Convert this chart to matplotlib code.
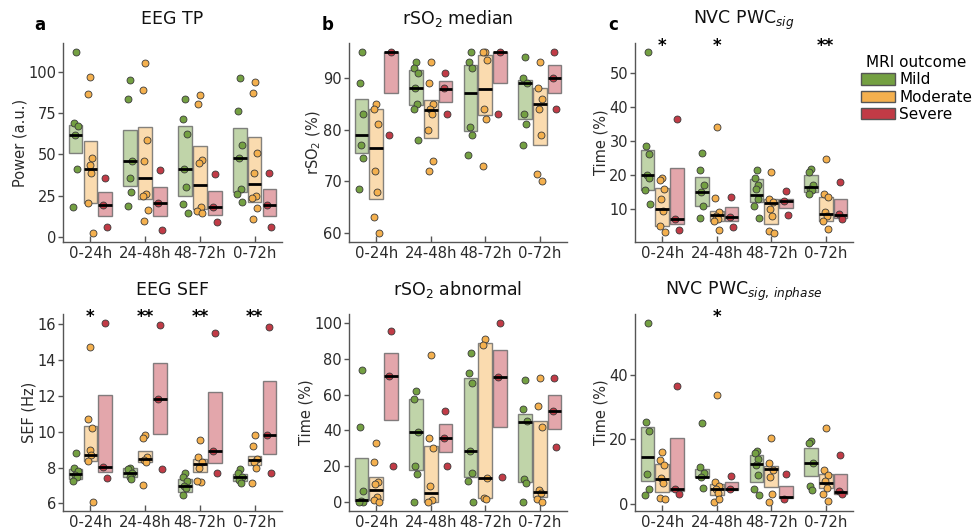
import numpy as np
import matplotlib
matplotlib.use("Agg")
import matplotlib.pyplot as plt
import matplotlib.transforms as mtransforms
from matplotlib.patches import Patch
from matplotlib.colors import to_rgba

categories = ["0-24h", "24-48h", "48-72h", "0-72h"]
groups = ["Mild", "Moderate", "Severe"]

# ---------------- EEG TP ----------------
tp_q1 = [[51, 31, 25, 27.5], [20.5, 23, 17, 21.5], [13, 12.5, 13.5, 12.5]]
tp_med = [[61.5, 46, 41.5, 48], [41, 36, 31.5, 32], [19.5, 20.5, 18, 19.5]]
tp_q3 = [[68, 65, 67.5, 66], [58, 66.5, 55, 60.5], [27.5, 30.5, 28, 29]]
tp_mild = [[112, 69, 67.5, 61.5, 41.5, 18], [95, 83.5, 46, 36, 27, 19],
           [83.5, 71.5, 62.5, 41.5, 30.5, 20, 14.5], [96.5, 76.5, 55.5, 48, 29, 26, 21.5]]
tp_mod = [[97, 86.5, 48, 43.5, 39, 20.5, 2.5], [105.5, 89, 58.5, 46, 26, 25, 16.5, 10],
          [86, 80.5, 46.5, 45, 18, 16, 14.5], [94, 87.5, 51, 39, 25, 23.5, 17.5, 11]]
tp_sev = [[35.5, 19.5, 6], [40.5, 20.5, 4], [38, 18, 9], [38.5, 19.5, 6]]

# ---------------- rSO2 median ----------------
rm_q1 = [[75.5, 84.7, 79.8, 82], [66.5, 78.4, 82.9, 77], [87, 85.4, 89, 87]]
rm_med = [[79, 88.1, 87, 89], [76.5, 83.7, 87.9, 85], [95, 87.9, 95, 90]]
rm_q3 = [[86, 91.5, 92.5, 89.5], [84, 85.8, 94.4, 88], [95, 89.4, 95, 92.5]]
rm_mild = [[95, 89, 83, 77, 74.5, 68.5], [93, 92, 91, 88, 85, 84, 78],
           [95, 93, 92, 80.5, 79, 75], [94, 90, 89, 83, 81, 77]]
rm_mod = [[85, 84, 81, 72, 68, 63, 60], [93, 89, 85, 84, 83, 80, 74, 72],
          [95, 95, 93.5, 84, 82, 73], [93, 88, 86, 84, 79, 71.5, 70]]
rm_sev = [[95, 79], [91, 88, 83], [95, 83], [95, 90, 84]]

# ---------------- NVC PWC sig ----------------
ns_q1 = [[15.5, 11, 12, 15], [5, 6.5, 5.5, 6.5], [5.5, 6.5, 10.3, 7.5]]
ns_med = [[20, 15, 14.2, 16.6], [10, 8.2, 11.7, 8.5], [7.2, 7.8, 12.3, 8.2]]
ns_q3 = [[27.3, 19.5, 18.8, 20], [16.3, 9.3, 13, 13.5], [21.9, 10.7, 13, 13]]
ns_mild = [[56, 28.5, 26, 20, 19, 15.5, 11.5], [26.3, 21.4, 17, 15, 11, 7.3],
           [21.4, 19, 17, 16, 13, 11, 7.5], [21.6, 20.8, 17, 16, 15.5, 14.5]]
ns_mod = [[19, 18.5, 15.8, 13, 9.5, 5, 3.4], [34, 13.1, 9, 8, 7, 6.5, 3.9],
          [20.9, 13, 12, 10, 8, 3.6, 3], [24.8, 14.5, 13.5, 9, 8, 6.5, 4.3]]
ns_sev = [[36.5, 7.2, 3.9], [13.6, 7.8, 4.8], [15.3, 12.3, 8.4], [18, 8.5, 7]]

# ---------------- EEG SEF ----------------
sef_q1 = [[7.35, 7.47, 6.64, 7.25], [8.38, 8.3, 7.75, 8.15], [7.75, 9.87, 8.27, 8.78]]
sef_med = [[7.65, 7.71, 6.98, 7.47], [8.7, 8.48, 8.2, 8.41], [8.06, 11.8, 8.91, 9.83]]
sef_q3 = [[7.92, 7.95, 7.38, 7.62], [10.33, 8.9, 8.5, 8.67], [12.04, 13.85, 12.19, 12.83]]
sef_mild = [[8.8, 8.0, 7.8, 7.6, 7.45, 7.25], [8.0, 7.9, 7.7, 7.5, 7.35],
            [7.7, 7.5, 7.25, 7.0, 6.85, 6.45], [7.9, 7.7, 7.5, 7.3, 7.12]]
sef_mod = [[14.73, 10.71, 10.2, 9.0, 8.7, 8.36, 6.08], [9.83, 9.63, 8.6, 8.4, 8.3, 7.05],
           [9.52, 8.58, 8.3, 8.0, 7.22, 7.25], [9.79, 9.22, 8.5, 8.3, 7.97, 7.14]]
sef_sev = [[16.06, 8.06, 7.42], [15.94, 11.8, 7.93], [15.48, 8.91, 7.68], [15.85, 9.83, 7.71]]

# ---------------- rSO2 abnormal ----------------
ra_q1 = [[0.7, 17.9, 14, 11.4], [1, 0, 2, 3], [45.6, 28, 41.7, 40.6]]
ra_med = [[0.9, 39.1, 28.4, 44.5], [7, 4.8, 13.7, 5.7], [70.5, 36, 69.9, 50.7]]
ra_q3 = [[24.4, 57.4, 69.4, 49], [14.2, 31.4, 88.9, 45], [83, 43.7, 84.9, 59.8]]
ra_mild = [[74, 42, 6, 0.5, 0, 0], [62, 57.5, 39, 20, 15.5, 0],
           [83, 71.8, 66.6, 28.4, 16.2, 11.6, 0], [68.1, 52, 45.4, 12.7, 10.7, 0]]
ra_mod = [[33, 22.3, 11, 10, 3, 1, 0], [82.1, 35.8, 30.1, 9, 1, 0],
          [90.8, 87.6, 13.7, 2.5, 1.5], [69.4, 53.5, 41.9, 7, 5.2, 1.5, 0]]
ra_sev = [[95.6, 70.5, 20], [51.1, 36, 20], [100, 69.9, 14.2], [69, 50.7, 30.6]]

# ---------------- NVC PWC sig, inphase ----------------
ni_q1 = [[7, 8.4, 6.7, 8.7], [3.6, 2.7, 5.4, 5], [3.9, 4.4, 1.8, 3.2]]
ni_med = [[14.5, 8.4, 12.4, 12.6], [7.7, 4.6, 10.8, 6.6], [4.5, 4.5, 2.1, 3.7]]
ni_q3 = [[23.9, 10.7, 15, 17.4], [12.5, 6.2, 11.9, 9.2], [20.5, 6.7, 5.7, 9.2]]
ni_mild = [[56, 25.4, 22.7, 9.3, 4.7, 2.7], [25.1, 11.3, 9.5, 8.4, 4.8],
           [16.5, 15.9, 14, 12, 9, 4.7, 2.9], [19.6, 18.8, 12.6, 5.7, 4.2]]
ni_mod = [[16.2, 13.6, 12.1, 8, 6.5, 1.8, 1.5], [33.6, 6.8, 5.5, 4.5, 3.5, 0.6, 1.5],
          [20.3, 12.8, 10.5, 8.5, 3.2, 0.6], [23.6, 10.4, 9, 7, 5, 3.2, 1]]
ni_sev = [[36.5, 4.5, 3.1], [8.8, 4.5], [9.3, 1.6], [15, 4, 3]]

# ---------------- styling ----------------
point_colors = ["#74a042", "#f4b04e", "#c13b46"]
offsets = [-0.27, 0.0, 0.27]
box_w = 0.25
jitter = np.array([0.0, -0.035, 0.035, -0.015, 0.02, -0.045, 0.045, -0.025, 0.01])
spine_c = "#555555"
text_c = "#2b2b2b"

plt.rcParams["font.family"] = ["DejaVu Sans"]

fig = plt.figure(figsize=(9.75, 5.32), dpi=100)

W, H = 975.0, 532.0
def rect(l, r, t, b):
    return [l / W, 1 - b / H, (r - l) / W, (b - t) / H]

panels = [
    dict(pos=rect(63, 282, 43, 242), q1=tp_q1, med=tp_med, q3=tp_q3, pts=[tp_mild, tp_mod, tp_sev],
         ticks=[0, 25, 50, 75, 100], ylabel="Power (a.u.)", title="EEG TP", stars=["", "", "", ""]),
    dict(pos=rect(349, 567, 43, 242), q1=rm_q1, med=rm_med, q3=rm_q3, pts=[rm_mild, rm_mod, rm_sev],
         ticks=[60, 70, 80, 90], ylabel="rSO$_2$ (%)", title="rSO$_2$ median", stars=["", "", "", ""]),
    dict(pos=rect(635, 853, 43, 242), q1=ns_q1, med=ns_med, q3=ns_q3, pts=[ns_mild, ns_mod, ns_sev],
         ticks=[10, 20, 30, 40, 50], ylabel="Time (%)", title="NVC PWC$_{sig}$", stars=["*", "*", "", "**"]),
    dict(pos=rect(63, 282, 314, 511), q1=sef_q1, med=sef_med, q3=sef_q3, pts=[sef_mild, sef_mod, sef_sev],
         ticks=[6, 8, 10, 12, 14, 16], ylabel="SEF (Hz)", title="EEG SEF", stars=["*", "**", "**", "**"]),
    dict(pos=rect(349, 567, 314, 511), q1=ra_q1, med=ra_med, q3=ra_q3, pts=[ra_mild, ra_mod, ra_sev],
         ticks=[0, 20, 40, 60, 80, 100], ylabel="Time (%)", title="rSO$_2$ abnormal", stars=["", "", "", ""]),
    dict(pos=rect(635, 853, 314, 511), q1=ni_q1, med=ni_med, q3=ni_q3, pts=[ni_mild, ni_mod, ni_sev],
         ticks=[0, 20, 40], ylabel="Time (%)", title="NVC PWC$_{sig,\\,inphase}$", stars=["", "*", "", ""]),
]

x = np.arange(len(categories))
for p in panels:
    ax = fig.add_axes(p["pos"])
    ax.use_sticky_edges = False
    for g in range(3):
        xs = x + offsets[g]
        lo = np.array(p["q1"][g], dtype=float)
        hi = np.array(p["q3"][g], dtype=float)
        ax.bar(xs, hi - lo, bottom=lo, width=box_w,
               facecolor=to_rgba(point_colors[g], 0.45),
               edgecolor=to_rgba("#666666", 0.8), linewidth=1.0, zorder=1)
        ax.hlines(p["med"][g], xs - box_w / 2, xs + box_w / 2, color="black", lw=2.0, zorder=4)
        for i, vals in enumerate(p["pts"][g]):
            vals = np.array(vals, dtype=float)
            ax.scatter(xs[i] + jitter[:len(vals)], vals, s=25, color=point_colors[g],
                       edgecolors="#3a3a3a", linewidths=0.6, zorder=3)
    ax.set_xlim(-0.5, 3.5)
    ax.margins(y=0.05)
    ax.autoscale_view()
    ax.set_xticks(x)
    ax.set_xticklabels(categories)
    ax.set_yticks(p["ticks"])
    for s in ["top", "right"]:
        ax.spines[s].set_visible(False)
    for s in ["left", "bottom"]:
        ax.spines[s].set_color(spine_c)
        ax.spines[s].set_linewidth(1.0)
    ax.tick_params(axis="y", direction="out", length=3.5, width=1, color=spine_c,
                   labelsize=10.5, labelcolor=text_c, pad=1.5)
    ax.tick_params(axis="x", direction="in", length=4, width=1, color=spine_c,
                   labelsize=10.7, labelcolor=text_c, pad=3)
    ax.set_ylabel(p["ylabel"], fontsize=10.5, color=text_c, labelpad=0.5)
    ax.set_title(p["title"], fontsize=12.5, color="#111111", pad=14)
    trans = mtransforms.blended_transform_factory(ax.transData, ax.transAxes)
    for i, st in enumerate(p["stars"]):
        if st:
            ax.text(x[i], 0.985, st, transform=trans, ha="center", va="center",
                    fontsize=12, color="black", fontweight="bold")

for lab, px in zip(["a", "b", "c"], [40, 328, 613]):
    fig.text(px / W, 1 - 25 / H, lab, fontsize=12, fontweight="bold", ha="center", va="center")

handles = [Patch(facecolor=point_colors[g], edgecolor="#555555", label=groups[g]) for g in range(3)]
fig.legend(handles=handles, title="MRI outcome", loc="upper left",
           bbox_to_anchor=(861 / W, 1 - 55 / H), frameon=False, fontsize=11, title_fontsize=11,
           handlelength=2.2, handleheight=0.75, handletextpad=0.3, labelspacing=0.15,
           borderpad=0, borderaxespad=0)

fig.savefig("out.png", dpi=100)
